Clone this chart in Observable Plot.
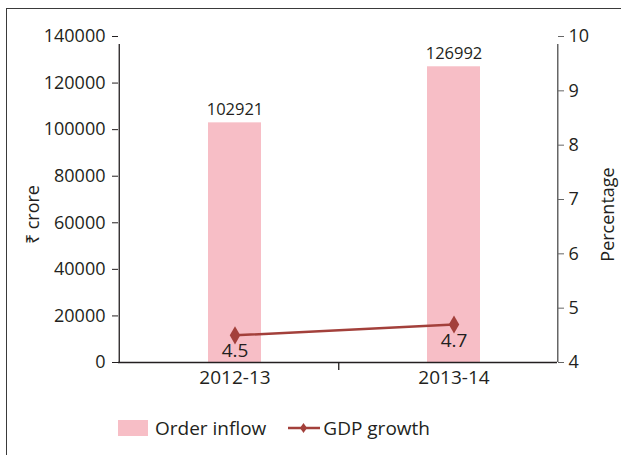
<!DOCTYPE html>
<html><head><meta charset="utf-8">
<script src="https://cdn.jsdelivr.net/npm/d3@7"></script>
<script src="https://cdn.jsdelivr.net/npm/@observablehq/plot@0.6"></script>
<style>
body{margin:0;background:#fff;font-family:"Open Sans",sans-serif;color:#231f20;overflow:hidden}
#frame{position:absolute;left:6px;top:8px;width:700px;height:600px;border:1.5px solid #3a3a3a;}
#chart{position:absolute;left:0;top:0}
#legend{position:absolute;top:415px;left:118px;display:flex;align-items:center;font-size:19px;color:#231f20}
#legend .sw{display:inline-block;width:30px;height:16px;background:#f7bec6;margin-right:7px}
</style></head><body>
<div id="frame"></div>
<div id="chart"></div>
<div id="legend">
  <span class="sw"></span><span>Order inflow</span>
  <svg width="34" height="16" style="margin-left:21px;margin-right:2px"><line x1="1" y1="8" x2="33" y2="8" stroke="#a3403b" stroke-width="2.5"/><path d="M16.5,3 L20,8 L16.5,13 L13,8Z" fill="#a3403b"/></svg><span>GDP growth</span>
</div>
<script>
const years = ["2012-13", "2013-14"];
const orderInflow = [102921, 126992];
const gdpGrowth = [4.5, 4.7];
const leftTicks = [0, 20000, 40000, 60000, 80000, 100000, 120000, 140000];
const rightTicks = [4, 5, 6, 7, 8, 9, 10];

const yMax = 140000, pMin = 4, pMax = 10;
const toY = p => (p - pMin) / (pMax - pMin) * yMax;
const data = years.map((year, i) => ({year, inflow: orderInflow[i], gdp: gdpGrowth[i]}));

const pink = "#f7bec6", red = "#a3403b", ink = "#231f20";
const step = (557 - 118) / years.length;
const shift = 6;

const chart = Plot.plot({
  width: 621,
  height: 400,
  marginLeft: 118,
  marginRight: 64,
  marginTop: 36,
  marginBottom: 38,
  style: {fontFamily: "'Open Sans', sans-serif", fontSize: "18px", color: ink, background: "transparent", overflow: "visible"},
  x: {domain: years, paddingInner: 0.758, paddingOuter: 0.379, axis: null},
  y: {domain: [0, yMax], axis: null},
  marks: [
    Plot.barY(data, {x: "year", y: "inflow", fill: pink, dx: shift}),
    Plot.ruleY([0], {stroke: ink, strokeWidth: 1.3}),
    // left axis line and ticks
    Plot.ruleX([years[0]], {dx: -step / 2, y1: 0, y2: yMax, insetBottom: -8, stroke: ink, strokeWidth: 1.3}),
    Plot.axisY(leftTicks, {anchor: "left", tickSize: 6, tickPadding: 7, label: null, fontSize: 18, stroke: ink, fill: ink, tickFormat: d => String(d)}),
    // middle category boundary tick
    Plot.ruleX([years[0]], {dx: step / 2, y1: 0, y2: 0, insetBottom: -8, stroke: ink, strokeWidth: 1.3}),
    // right axis line and ticks
    Plot.ruleX([years[years.length - 1]], {dx: step / 2, y1: 0, y2: yMax, insetBottom: -8, stroke: "#666", strokeWidth: 1.5}),
    Plot.axisY(rightTicks.map(toY), {anchor: "right", tickSize: 6, tickPadding: 5, label: null, fontSize: 18, stroke: "#666", fill: ink, tickFormat: d => String(Math.round(pMin + d / yMax * (pMax - pMin)))}),
    // x tick labels
    Plot.text(years, {x: d => d, frameAnchor: "bottom", dy: 21, dx: shift, fontSize: 19, fill: ink}),
    // bar value labels
    Plot.text(data, {x: "year", y: "inflow", text: d => String(d.inflow), dy: -13, dx: shift, fontSize: 16.5, fill: ink}),
    // GDP line
    Plot.line(data, {x: "year", y: d => toY(d.gdp), stroke: red, strokeWidth: 2.5, dx: shift}),
    Plot.dot(data, {x: "year", y: d => toY(d.gdp), symbol: "diamond", r: 5.5, fill: red, stroke: "none", dx: shift}),
    Plot.text(data, {x: "year", y: d => toY(d.gdp), text: d => d.gdp.toFixed(1), dy: 16, dx: shift, fontSize: 19, fill: ink}),
    // axis titles
    Plot.text(["₹ crore"], {frameAnchor: "left", textAnchor: "middle", dx: -85, dy: 15, rotate: -90, fontSize: 18, fill: ink}),
    Plot.text(["Percentage"], {frameAnchor: "right", textAnchor: "middle", dx: 51, dy: 15, rotate: -90, fontSize: 18, fill: ink})
  ]
});
document.getElementById("chart").appendChild(chart);
</script>
</body></html>
